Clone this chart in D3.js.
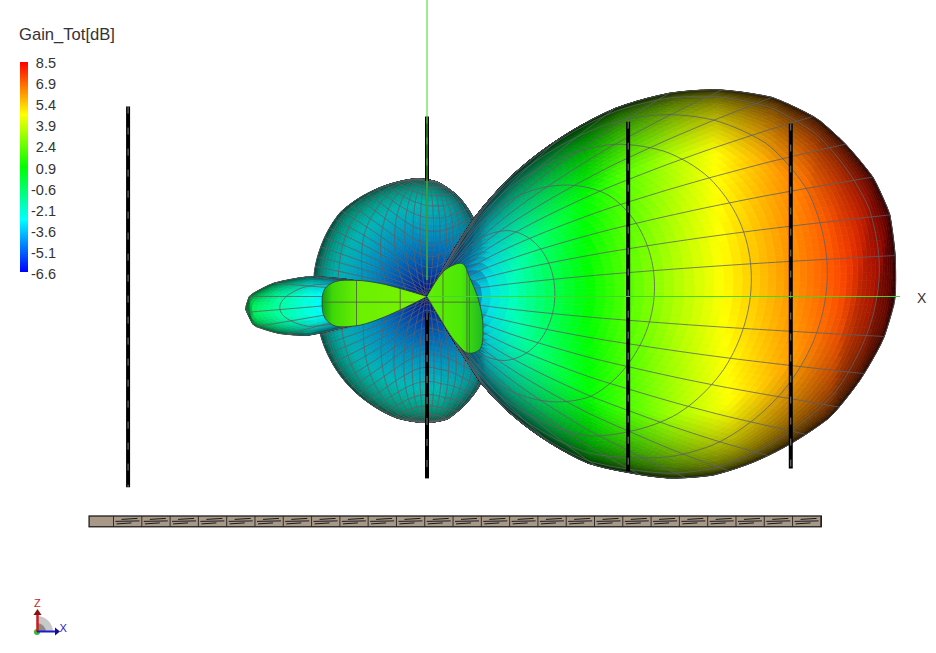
<!DOCTYPE html>
<html>
<head>
<meta charset="utf-8">
<title>Gain_Tot</title>
<script src="https://cdn.jsdelivr.net/npm/d3@7"></script>
<style>
  html, body { margin: 0; padding: 0; background: #fff; }
  svg { display: block; }
  text { font-family: "Liberation Sans", Arial, sans-serif; fill: #333; }
</style>
</head>
<body>
<div id="chart"></div>
<script>
const width = 936;
const height = 653;

// legend
const legendTitle = 'Gain_Tot[dB]';
const legendTicks = ['8.5', '6.9', '5.4', '3.9', '2.4', '0.9', '-0.6', '-2.1', '-3.6', '-5.1', '-6.6'];
const gainMin = -6.6;
const gainMax = 8.5;
const colorGains = [-6.6, -2.825, 0.95, 4.725, 8.5];
const colorNames = ['#0000ff', '#00ffff', '#00ff00', '#ffff00', '#ff0000'];

const mainAngles = [-61, -60, -58.2, -55.5, -50, -46.1, -41.3, -36.8, -32, -26.9, -21.7, -16.6, -10.9, -5.4, -0.4, 5.2, 10.2, 14.9, 20.1, 24.5, 29.9, 35.5, 39.9, 45, 50.3, 55.2, 59, 60, 60.6];
const mainGains = [-6.6, -6.6, -3.39, -2.29, -0.46, 0.82, 1.95, 3.14, 4.23, 5.16, 6.06, 6.93, 7.57, 8.12, 8.44, 8.5, 8.5, 8.24, 7.7, 7.18, 6.22, 4.84, 3.59, 1.95, -0.08, -1.94, -3.64, -4.6, -6.6];

const backAxis = 185;
const backAngles = [-21, -20, -18.5, -16.7, -14.7, -9.8, -5.3, -1.2, 4.5, 9, 13.4, 15, 18, 20, 21];
const backGains = [-6.6, -6.6, -4.83, -3.74, -2.8, -1.62, -0.9, -0.75, -0.95, -1.7, -2.65, -3.6, -4.6, -6.6, -6.6];

const sideAngles = [-180, -161, -148, -132.6, -118, -104, -90, -80.7, -69.5, -58.6, -40, -30, 30, 40, 61.5, 73.6, 85, 95, 105, 118.5, 136, 156, 168, 180];
const sideGains = [-3.0, -2.97, -2.9, -2.8, -2.7, -2.58, -2.55, -2.6, -2.95, -3.3, -4.3, -6.6, -6.6, -4.3, -3.6, -3.2, -2.9, -2.8, -2.8, -2.78, -2.72, -2.84, -2.9, -3.0];
const sidePower = 3;

// the two bright green faces next to the origin
const petalLeftAngles = [164, 164.5, 167, 171.5, 176, 184, 192, 197, 202.5, 202.6];
const petalLeftGains = [-6.6, -5.0, -4.3, -3.55, -3.3, -3.22, -3.25, -3.45, -4.15, -6.6];
const petalRightAngles = [55, 54.5, 43, 23.8, -3, -28.6, -46, -54, -57.4, -59.5, -60];
const petalRightGains = [-6.6, -5.5, -5.05, -5.1, -4.95, -4.55, -4.2, -4.35, -4.8, -5.95, -6.6];
const petalLeftGridX = [-37, -15, -5.7];
const petalRightGridX = [3.4, 8.5, 9.0];
const petalGridZ = [-1.2];

// antenna elements and ground strip, in model units
const elementX = [-63.6, 0, 42.8, 77.4];
const elementTop = [40.4, 38.3, 37.2, 36.8];
const elementBottom = [-40.6, -38.7, -37.2, -36.6];
const groundLeft = -71.9;
const groundRight = 83.9;
const groundTop = -46.7;
const groundBottom = -49;
const groundCells = d3.range(-66.7, 84, 6.02);

const rad = Math.PI / 180;
const unitsPerPixel = 100 / 470;

const x = d3.scaleLinear().domain([-427 * unitsPerPixel, 509 * unitsPerPixel]).range([0, 936]);
const z = d3.scaleLinear().domain([296.5 * unitsPerPixel, -356.5 * unitsPerPixel]).range([0, 653]);
const radius = d3.scaleLinear().domain([gainMin, gainMax]).range([0, 100]);
const color = d3.scaleLinear().domain(colorGains).range(colorNames).clamp(true);

const svg = d3.select('#chart').append('svg')
  .attr('width', width)
  .attr('height', height)
  .attr('viewBox', `0 0 ${width} ${height}`);
const defs = svg.append('defs');

// gain of each lobe as a function of direction
const mainLookup = d3.scaleLinear().domain(mainAngles).range(mainGains).clamp(true);
const backLookup = d3.scaleLinear().domain(backAngles).range(backGains).clamp(true);
const sideLookup = d3.scaleLinear().domain(sideAngles).range(sideGains).clamp(true);

const revolved = (lookup, axis) => d => {
  const ca = Math.cos(axis * rad);
  const sa = Math.sin(axis * rad);
  const u = d[0] * ca + d[2] * sa;
  const w = -d[0] * sa + d[2] * ca;
  const off = Math.sqrt(d[1] * d[1] + w * w);
  const alpha = Math.atan2(off, u) / rad;
  const roll = off > 1e-6 ? w / off : 0;
  const up = lookup(alpha);
  const down = lookup(-alpha);
  return radius.invert(radius(up) * (1 + roll) / 2 + radius(down) * (1 - roll) / 2);
};

const sideGain = d => {
  const flat = 1 - d[1] * d[1];
  if (flat < 1e-6) return gainMin;
  const psi = Math.atan2(d[2], d[0]) / rad;
  return radius.invert(radius(sideLookup(psi)) * Math.pow(flat, sidePower / 2));
};

const direction = (theta, phi) => [
  Math.sin(theta * rad) * Math.cos(phi * rad),
  Math.sin(theta * rad) * Math.sin(phi * rad),
  Math.cos(theta * rad)
];

const surfacePoint = (gainOf, theta, phi) => {
  const d = direction(theta, phi);
  const g = gainOf(d);
  const r = Math.max(radius(g), 0);
  return { p: [r * d[0], r * d[1], r * d[2]], g };
};

const flatness = corners => {
  const a = [corners[2].p[0] - corners[0].p[0], corners[2].p[1] - corners[0].p[1], corners[2].p[2] - corners[0].p[2]];
  const b = [corners[3].p[0] - corners[1].p[0], corners[3].p[1] - corners[1].p[1], corners[3].p[2] - corners[1].p[2]];
  const n = [a[1] * b[2] - a[2] * b[1], a[2] * b[0] - a[0] * b[2], a[0] * b[1] - a[1] * b[0]];
  const len = Math.hypot(n[0], n[1], n[2]);
  return len > 1e-9 ? Math.abs(n[1]) / len : 1;
};

const outline = d3.line().x(d => x(d.p[0])).y(d => z(d.p[2]));

const drawLobe = (gainOf, o) => {
  const step = o.step;
  const quads = [];
  for (let t = 0; t < 180; t += step) {
    for (let f = 0; f < 180; f += step) {
      const corners = [
        surfacePoint(gainOf, t, f),
        surfacePoint(gainOf, t + step, f),
        surfacePoint(gainOf, t + step, f + step),
        surfacePoint(gainOf, t, f + step)
      ];
      if (corners.every(c => c.g <= gainMin + 1e-6)) continue;
      const gain = d3.mean(corners, c => c.g);
      const depth = d3.mean(corners, c => c.p[1]);
      const shade = Math.min(1, o.light[0] + o.light[1] * Math.pow(flatness(corners), o.light[2]));
      const c = d3.rgb(color(gain + o.shift * radius(gain)));
      const fill = d3.rgb(c.r * shade, c.g * shade, c.b * shade).formatHex();
      quads.push({ corners, fill, depth });
    }
  }
  quads.sort((a, b) => a.depth - b.depth);

  const group = svg.append('g');
  group.selectAll('path')
    .data(quads)
    .join('path')
    .attr('d', d => outline(d.corners) + 'Z')
    .attr('fill', d => d.fill)
    .attr('stroke', d => d.fill)
    .attr('stroke-width', 0.7);

  // mesh lines every 5 degrees of theta and 10 degrees of phi
  const meshLines = [];
  d3.range(5, 180, 5).forEach(t => {
    meshLines.push(d3.range(0, 180.01, step).map(f => surfacePoint(gainOf, t, f)));
  });
  d3.range(0, 180.01, 10).forEach(f => {
    meshLines.push(d3.range(0, 180.01, step).map(t => surfacePoint(gainOf, t, f)));
  });
  const meshLine = d3.line()
    .defined(d => d.g > gainMin + 1e-6)
    .x(d => x(d.p[0]))
    .y(d => z(d.p[2]));
  group.append('g').selectAll('path')
    .data(meshLines)
    .join('path')
    .attr('d', meshLine)
    .attr('fill', 'none')
    .attr('stroke', '#5c6064')
    .attr('stroke-width', 0.8);
};

const polarPoints = (angles, gains) => angles.map((a, i) => ({
  p: [radius(gains[i]) * Math.cos(a * rad), 0, radius(gains[i]) * Math.sin(a * rad)]
}));

const petalLine = d3.line()
  .curve(d3.curveCatmullRomClosed.alpha(0.8))
  .x(d => x(d.p[0]))
  .y(d => z(d.p[2]));

const drawPetal = (id, angles, gains, stops, gridX) => {
  const pts = polarPoints(angles, gains);
  const path = petalLine(pts);
  const ext = d3.extent(pts, d => x(d.p[0]));
  const grad = defs.append('linearGradient')
    .attr('id', 'grad-' + id)
    .attr('gradientUnits', 'userSpaceOnUse')
    .attr('x1', ext[0]).attr('x2', ext[1]).attr('y1', 0).attr('y2', 0);
  grad.selectAll('stop').data(stops).join('stop')
    .attr('offset', d => d[0])
    .attr('stop-color', d => d[1]);
  defs.append('clipPath').attr('id', 'clip-' + id).append('path').attr('d', path);

  svg.append('path').attr('d', path).attr('fill', `url(#grad-${id})`);
  const grid = svg.append('g').attr('clip-path', `url(#clip-${id})`);
  grid.selectAll('.gx').data(gridX).join('line')
    .attr('class', 'gx')
    .attr('x1', d => x(d)).attr('x2', d => x(d))
    .attr('y1', 240).attr('y2', 370)
    .attr('stroke', '#4d6a40').attr('stroke-width', 0.9);
  grid.selectAll('.gz').data(petalGridZ).join('line')
    .attr('class', 'gz')
    .attr('x1', 300).attr('x2', 500)
    .attr('y1', d => z(d)).attr('y2', d => z(d))
    .attr('stroke', '#4d6a40').attr('stroke-width', 0.9);
  svg.append('path').attr('d', path).attr('fill', 'none')
    .attr('stroke', '#2c3a3a').attr('stroke-width', 0.8);
};

// legend
svg.append('text')
  .attr('x', 19).attr('y', 40)
  .style('font-size', '16.6px')
  .text(legendTitle);

const legendGrad = defs.append('linearGradient')
  .attr('id', 'legend-grad')
  .attr('x1', 0).attr('x2', 0).attr('y1', 1).attr('y2', 0);
legendGrad.selectAll('stop').data(colorGains).join('stop')
  .attr('offset', d => (d - gainMin) / (gainMax - gainMin))
  .attr('stop-color', d => color(d));
svg.append('rect')
  .attr('x', 20).attr('y', 62).attr('width', 8).attr('height', 210)
  .attr('fill', 'url(#legend-grad)');

const legendScale = d3.scalePoint().domain(legendTicks).range([63, 274]);
svg.selectAll('.legend-tick')
  .data(legendTicks)
  .join('text')
  .attr('class', 'legend-tick')
  .attr('x', 56)
  .attr('y', d => legendScale(d) + 5)
  .attr('text-anchor', 'end')
  .style('font-size', '14.5px')
  .text(d => d);

// lobes, back to front
drawLobe(sideGain, { step: 2, shift: 0.03, light: [0.12, 0.62, 1] });
drawLobe(revolved(backLookup, backAxis), { step: 1, shift: 0.012, light: [0.1, 0.95, 1] });
drawLobe(revolved(mainLookup, 0), { step: 1, shift: 0, light: [0.03, 1.3, 1] });
drawPetal('left', petalLeftAngles, petalLeftGains, [[0, '#139c14'], [0.1, '#3ed808'], [0.35, '#6af000'], [1, '#7af400']], petalLeftGridX);
drawPetal('right', petalRightAngles, petalRightGains, [[0, '#62ee02'], [0.6, '#4ce808'], [1, '#1eba22']], petalRightGridX);

// antenna elements; the top half of the one at the origin goes behind the lobe
const elementData = elementX.map((v, i) => ({ x: v, top: elementTop[i], bottom: elementBottom[i] }));
const elements = svg.append('g');
const lobeTopZ = 24.6;
const fanZ = 3.5;
elements.append('line')
  .attr('x1', x(0)).attr('x2', x(0))
  .attr('y1', z(lobeTopZ)).attr('y2', z(fanZ))
  .attr('stroke', '#2f5f58').attr('stroke-width', 2.2);
elementData.forEach((d, i) => {
  const spans = i === 1
    ? [[d.top, lobeTopZ], [-3.5, d.bottom]]
    : [[d.top, d.bottom]];
  spans.forEach(s => {
    elements.append('line')
      .attr('x1', x(d.x)).attr('x2', x(d.x))
      .attr('y1', z(s[0])).attr('y2', z(s[1]))
      .attr('stroke', '#000').attr('stroke-width', 4);
    elements.append('line')
      .attr('x1', x(d.x)).attr('x2', x(d.x))
      .attr('y1', z(s[0])).attr('y2', z(s[1]))
      .attr('stroke', '#b4b4b4').attr('stroke-width', 0.7)
      .attr('stroke-dasharray', '7 14');
  });
});

// global axes
const axes = svg.append('g').attr('stroke', '#43d62b').attr('stroke-width', 1);
axes.append('line').attr('x1', x(0)).attr('x2', 900).attr('y1', z(0)).attr('y2', z(0));
axes.append('line').attr('x1', x(0)).attr('x2', x(0)).attr('y1', 0).attr('y2', z(fanZ));
svg.append('text')
  .attr('x', 917).attr('y', 303)
  .style('font-size', '14px')
  .text('X');

// ground strip
const ground = svg.append('g');
ground.append('rect')
  .attr('x', x(groundLeft)).attr('width', x(groundRight) - x(groundLeft))
  .attr('y', z(groundTop)).attr('height', z(groundBottom) - z(groundTop))
  .attr('fill', '#a89888').attr('stroke', '#111').attr('stroke-width', 1.2);
ground.selectAll('.cell-line')
  .data(groundCells)
  .join('line')
  .attr('class', 'cell-line')
  .attr('x1', d => x(d)).attr('x2', d => x(d))
  .attr('y1', z(groundTop)).attr('y2', z(groundBottom))
  .attr('stroke', '#222').attr('stroke-width', 0.9);
const cellMid = (z(groundTop) + z(groundBottom)) / 2;
ground.selectAll('.cell-mid')
  .data(groundCells.slice(0, -1))
  .join('path')
  .attr('class', 'cell-mid')
  .attr('d', d => {
    const a = x(d);
    return `M${a + 8},${cellMid - 2}L${a + 24},${cellMid - 3}M${a + 2},${cellMid}L${a + 26},${cellMid - 0.5}M${a + 3},${cellMid + 2.5}L${a + 18},${cellMid + 1.5}`;
  })
  .attr('fill', 'none').attr('stroke', '#1c1c1c').attr('stroke-width', 1);

// orientation marker, bottom left
const marker = svg.append('g');
marker.append('path').attr('d', 'M37,632L37,616A16,16 0 0 1 53,632Z').attr('fill', '#c8c8c8');
marker.append('path').attr('d', 'M37,632L37,623A9,9 0 0 1 46,632Z').attr('fill', '#8a8a8a');
marker.append('circle').attr('cx', 37).attr('cy', 632).attr('r', 3).attr('fill', '#2fbf35');
marker.append('line').attr('x1', 37.5).attr('x2', 37.5).attr('y1', 632).attr('y2', 614).attr('stroke', '#c81e1e').attr('stroke-width', 2.5);
marker.append('path').attr('d', 'M33.5,615L37.5,609L41.5,615Z').attr('fill', '#8b0f0f');
marker.append('line').attr('x1', 37).attr('x2', 56).attr('y1', 631.5).attr('y2', 631.5).attr('stroke', '#1a1ad0').attr('stroke-width', 2);
marker.append('path').attr('d', 'M55,627.5L60,631.5L55,635.5Z').attr('fill', '#10108a');
marker.append('text').attr('x', 34).attr('y', 607).style('font-size', '11px').style('fill', '#c81e1e').text('Z');
marker.append('text').attr('x', 59.5).attr('y', 632).style('font-size', '11px').style('fill', '#1a1ad0').text('X');
</script>
</body>
</html>
